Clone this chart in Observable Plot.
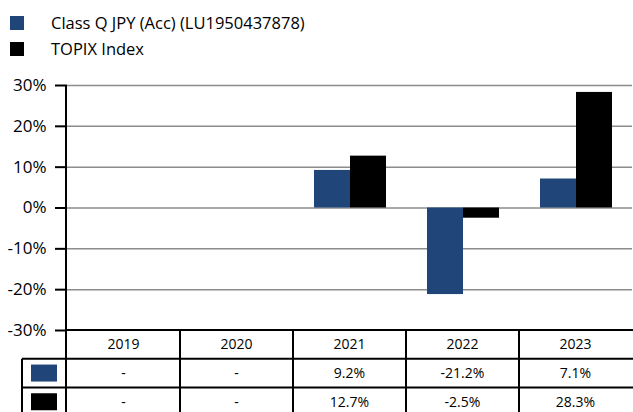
<!DOCTYPE html>
<html><head><meta charset="utf-8">
<script src="https://cdn.jsdelivr.net/npm/d3@7"></script>
<script src="https://cdn.jsdelivr.net/npm/@observablehq/plot@0.6"></script>
<style>
html,body{margin:0;padding:0;background:#fff;overflow:hidden;}
#wrap{position:relative;width:633px;height:412px;overflow:hidden;font-family:"Open Sans",sans-serif;color:#000;}
#legend{position:absolute;left:10px;top:10px;font-size:16.5px;line-height:26px;}
.item{display:flex;align-items:center;height:26px;}
.sw{width:14px;height:14px;margin-right:27px;}
</style></head><body><div id="wrap"><div id="legend"></div></div>
<script>
const years = ["2019", "2020", "2021", "2022", "2023"];
const seriesNames = ["Class Q JPY (Acc) (LU1950437878)", "TOPIX Index"];
const fundValues = [null, null, 9.2, -21.2, 7.1];
const indexValues = [null, null, 12.7, -2.5, 28.3];
const colors = ["#1f4579", "#000000"];
const yTicks = [30, 20, 10, 0, -10, -20, -30];

const seriesValues = [fundValues, indexValues];
const data = years.flatMap((y, i) => seriesNames.map((s, k) => ({year: y, series: s, value: seriesValues[k][i]})));
const fmt = v => v == null ? "-" : v.toFixed(1) + "%";

const chart = Plot.plot({
  width: 633, height: 412,
  marginTop: 85, marginBottom: 82, marginLeft: 66, marginRight: 0,
  style: {fontFamily: "'Open Sans', sans-serif", fontSize: "15px", color: "#000", background: "transparent"},
  fx: {domain: years, padding: 0, axis: null},
  x: {domain: seriesNames, paddingInner: 0, paddingOuter: 0.55, axis: null},
  y: {domain: [-30, 30], axis: null},
  color: {domain: seriesNames, range: colors},
  marks: [
    Plot.ruleY(yTicks.filter(t => t > -30), {stroke: "#8c8c8c", strokeWidth: 1.5}),
    Plot.barY(data, {fx: "year", x: "series", y: "value", fill: "series"}),
    Plot.axisY({ticks: yTicks, tickSize: 12, tickPadding: 9, strokeWidth: 2, stroke: "#000", tickFormat: d => d + "%", fontSize: 17, label: null, facetAnchor: "left"})
  ]
});
document.getElementById("wrap").appendChild(chart);

// legend
const leg = d3.select("#legend");
seriesNames.forEach((s, k) => {
  const it = leg.append("div").attr("class", "item");
  it.append("div").attr("class", "sw").style("background", colors[k]);
  it.append("span").text(s);
});

// table under the chart, aligned with the fx scale
const fxS = chart.scale("fx");
const yS = chart.scale("y");
const tableTop = yS.apply(-30);
const rowH = 28.7;
const legL = 22, axisX = fxS.range[0], farR = 700;
const svg = d3.select(chart);
const g = svg.append("g").attr("stroke", "#000").attr("stroke-width", 2);
g.append("line").attr("x1", axisX).attr("x2", axisX).attr("y1", yS.apply(30)).attr("y2", 420);
g.append("line").attr("x1", axisX).attr("x2", farR).attr("y1", tableTop).attr("y2", tableTop);
[1, 2].forEach(r => g.append("line").attr("x1", legL).attr("x2", farR).attr("y1", tableTop + r * rowH).attr("y2", tableTop + r * rowH));
g.append("line").attr("x1", legL).attr("x2", legL).attr("y1", tableTop + rowH).attr("y2", 420);
years.slice(1).forEach(yr => {
  const x = fxS.apply(yr);
  g.append("line").attr("x1", x).attr("x2", x).attr("y1", tableTop).attr("y2", 420);
});
const tg = svg.append("g").attr("font-family", "'Open Sans', sans-serif").attr("font-size", 14).attr("text-anchor", "middle").attr("fill", "#000");
years.forEach((yr, i) => {
  const cx = fxS.apply(yr) + fxS.bandwidth / 2;
  tg.append("text").attr("x", cx).attr("y", tableTop + rowH / 2).attr("dy", "0.35em").text(yr);
  seriesValues.forEach((vals, k) => {
    tg.append("text").attr("x", cx).attr("y", tableTop + (k + 1.5) * rowH).attr("dy", "0.35em").text(fmt(vals[i]));
  });
});
seriesNames.forEach((s, k) => {
  svg.append("rect").attr("x", (legL + axisX) / 2 - 13).attr("y", tableTop + (k + 1.5) * rowH - 8.5)
    .attr("width", 26).attr("height", 17).attr("fill", colors[k]);
});
</script></body></html>
